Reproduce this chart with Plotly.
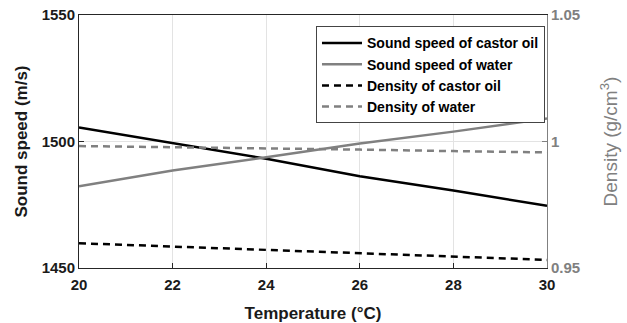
import plotly.graph_objects as go

temperature = [20, 22, 24, 26, 28, 30]
speed_castor = [1505.5, 1499.2, 1493.2, 1486.3, 1480.6, 1474.6]
speed_water = [1482.3, 1488.5, 1493.8, 1499.2, 1503.9, 1509.1]
density_castor = [0.9598, 0.9585, 0.9572, 0.9558, 0.9545, 0.9532]
density_water = [0.9982, 0.9978, 0.9973, 0.9968, 0.9962, 0.9957]

x_ticks = [20, 22, 24, 26, 28, 30]
y1_ticks = [1450, 1500, 1550]
y2_ticks = [0.95, 1.0, 1.05]
y2_ticktext = ["0.95", "1", "1.05"]

BLACK = "#000000"
GRAY = "#808080"
FONT = "Liberation Sans, Arial, sans-serif"

fig = go.Figure()
fig.add_trace(go.Scatter(x=temperature, y=speed_castor, mode="lines",
                         name="Sound speed of castor oil",
                         line=dict(color=BLACK, width=2.5)))
fig.add_trace(go.Scatter(x=temperature, y=speed_water, mode="lines",
                         name="Sound speed of water",
                         line=dict(color=GRAY, width=2.5)))
fig.add_trace(go.Scatter(x=temperature, y=density_castor, mode="lines",
                         name="Density of castor oil", yaxis="y2",
                         line=dict(color=BLACK, width=2.5, dash="7px,5px")))
fig.add_trace(go.Scatter(x=temperature, y=density_water, mode="lines",
                         name="Density of water", yaxis="y2",
                         line=dict(color=GRAY, width=2.5, dash="7px,5px")))

fig.update_layout(
    width=627, height=323,
    margin=dict(l=79, r=80, t=15, b=55),
    paper_bgcolor="white", plot_bgcolor="white",
    font=dict(family=FONT, size=14, color=BLACK),
    showlegend=True,
    legend=dict(x=0.9957, y=0.955, xanchor="right", yanchor="top",
                bgcolor="white", bordercolor="#444444", borderwidth=1,
                font=dict(family=FONT, size=14, color=BLACK, weight="bold"),
                tracegroupgap=0, itemwidth=40),
    xaxis=dict(range=[20, 30], tickvals=x_ticks, ticks="inside", ticklen=5,
               tickcolor="#262626", showline=True, mirror=True, automargin=False,
               linecolor="#262626", linewidth=1, ticklabelstandoff=3,
               showgrid=True, gridcolor="#e3e3e3", gridwidth=1, zeroline=False,
               tickfont=dict(family=FONT, size=15, color="#1a1a1a", weight="bold"),
               title=dict(text="Temperature (°C)", standoff=15,
                          font=dict(family=FONT, size=17, color="#1a1a1a", weight="bold"))),
    yaxis=dict(range=[1450, 1550], tickvals=y1_ticks, ticks="inside", ticklen=5,
               tickcolor="#262626", showline=True, linecolor="#262626", linewidth=1,
               automargin=False,
               showgrid=True, gridcolor="#e3e3e3", gridwidth=1, zeroline=False,
               tickfont=dict(family=FONT, size=15, color="#1a1a1a", weight="bold"),
               title=dict(text="Sound speed (m/s)", standoff=9,
                          font=dict(family=FONT, size=17, color="#1a1a1a", weight="bold"))),
    yaxis2=dict(range=[0.95, 1.05], tickvals=y2_ticks, ticktext=y2_ticktext,
                overlaying="y", side="right", ticks="inside", ticklen=5,
                tickcolor=GRAY, showline=True, linecolor=GRAY, linewidth=1,
                automargin=False,
                showgrid=False, zeroline=False,
                tickfont=dict(family=FONT, size=15, color=GRAY, weight="bold"),
                title=dict(text="Density (g/cm<sup>3</sup>)", standoff=24,
                           font=dict(family=FONT, size=19, color=GRAY))),
)

fig.write_html("out.html")
